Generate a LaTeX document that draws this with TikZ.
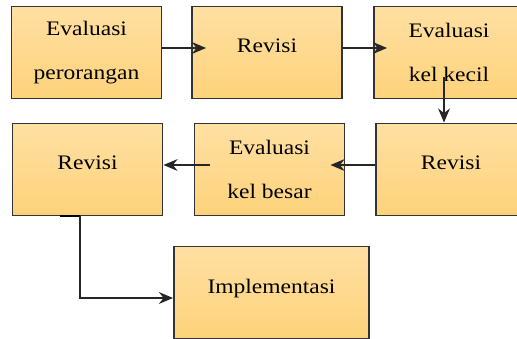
\documentclass[tikz,border=0pt]{standalone}
\usepackage{fontspec}
\setmainfont{Liberation Serif}[FakeStretch=1.14]
\usetikzlibrary{calc,arrows.meta}
\definecolor{boxtop}{HTML}{FFE0A3}
\definecolor{boxbot}{HTML}{FDD27A}
\definecolor{boxline}{HTML}{333333}
\tikzset{>={Stealth[length=12pt,width=10pt]}}
\tikzset{box/.style={draw=boxline,line width=1.6pt,top color=boxtop,bottom color=boxbot,
  minimum width=4.5cm,minimum height=2.76cm,inner sep=0pt,align=center,
  font=\fontsize{17.6}{37}\selectfont},
  oneline/.style={text depth=11pt},
  link/.style={->,line width=1.8pt,draw=black!85}}

\begin{document}
\begin{tikzpicture}[x=0.03cm,y=-0.03cm]
\clip (0,0) rectangle (517,338);
\node[box] (E1) at (86.5,52.5) {Evaluasi\\perorangan};
\node[box,oneline] (R1) at (267,52.5) {Revisi};
\node[box] (E2) at (449,52.5) {Evaluasi\\kel kecil};
\node[box,oneline] (R2) at (451,169.5) {Revisi};
\node[box] (E3) at (269.5,169.5) {Evaluasi\\kel besar};
\node[box,oneline] (R3) at (87.5,169.5) {Revisi};
\node[box,oneline,minimum width=5.85cm] (I) at (271.5,292.5) {Implementasi};
\draw[link] ($(E1.east)+(0,-4.5)$) -- ($(R1.west)+(15,-4.5)$);
\draw[link] ($(R1.east)+(0,-4.5)$) -- ($(E2.west)+(14,-4.5)$);
\draw[link] ($(E2.south)+(-5,-22)$) -- ($(R2.north)+(-7,0)$);
\draw[link] ($(R2.west)+(0,-4.5)$) -- ($(E3.east)+(-15,-4.5)$);
\draw[link] ($(E3.west)+(16,-4.5)$) -- ($(R3.east)+(0,-4.5)$);
\draw[line width=1.8pt] ($(R3.south)+(-28,0)$) -- ($(R3.south)+(-7.5,0)$);
\draw[link] ($(R3.south)+(-7.5,0)$) |- ($(I.west)+(0,5.5)$);
\end{tikzpicture}
\end{document}
